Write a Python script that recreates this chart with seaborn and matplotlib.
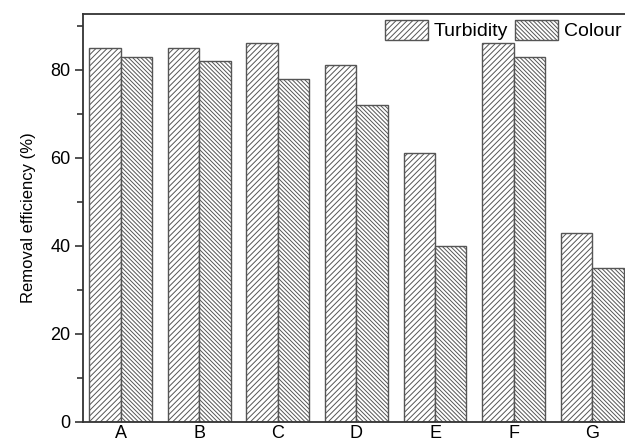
import matplotlib
matplotlib.use("Agg")
import matplotlib.pyplot as plt
import seaborn as sns
import pandas as pd

categories = ["A", "B", "C", "D", "E", "F", "G"]
turbidity = [85, 85, 86, 81, 61, 86, 43]
colour = [83, 82, 78, 72, 40, 83, 35]
series_names = ["Turbidity", "Colour"]

df = pd.DataFrame({
    "cat": categories * 2,
    "val": turbidity + colour,
    "series": [series_names[0]] * len(categories) + [series_names[1]] * len(categories),
})

sns.set_style("ticks")
plt.rcParams["font.family"] = ["Liberation Sans", "DejaVu Sans"]
plt.rcParams["hatch.linewidth"] = 0.7
plt.rcParams["text.color"] = "black"
plt.rcParams["axes.labelcolor"] = "black"
plt.rcParams["xtick.color"] = "#333333"
plt.rcParams["ytick.color"] = "#333333"
plt.rcParams["xtick.labelcolor"] = "black"
plt.rcParams["ytick.labelcolor"] = "black"

fig = plt.figure(figsize=(6.25, 4.45), dpi=100)
ax = fig.add_axes([0.1328, 0.0517, 0.875, 0.917])

sns.barplot(data=df, x="cat", y="val", hue="series", order=categories,
            hue_order=series_names, palette=["white", "white"],
            width=0.8, ax=ax, legend=False, saturation=1)

hatches = ["//////", "\\\\\\\\\\\\\\\\"]
for cont, h in zip(ax.containers, hatches):
    for p in cont:
        p.set_hatch(h)
        p.set_edgecolor("#555555")
        p.set_linewidth(1.0)
        p.set_facecolor("white")

ax.set_ylim(0, 92.7)
ax.set_xlim(-0.48, 6.48)
ax.set_yticks([0, 20, 40, 60, 80])
ax.set_yticks([10, 30, 50, 70, 90], minor=True)
ax.tick_params(axis="y", which="major", length=6, width=1.2, labelsize=13, direction="out", pad=3)
ax.tick_params(axis="y", which="minor", length=4, width=1.2, direction="out")
ax.tick_params(axis="x", length=0, labelsize=13, pad=2)
ax.set_xlabel("")
ax.set_ylabel("Removal efficiency (%)", fontsize=12, labelpad=10)
for s in ax.spines.values():
    s.set_linewidth(1.3)
    s.set_color("#333333")

handles = [ax.containers[0][0], ax.containers[1][0]]
ax.legend(handles, series_names, loc="upper right", ncol=2, frameon=False,
          fontsize=14, handlelength=2.2, handleheight=1.2, columnspacing=0.35,
          handletextpad=0.3, borderaxespad=0.1, borderpad=0.2,
          bbox_to_anchor=(0.995, 1.0))

fig.savefig("out.png", dpi=100)
